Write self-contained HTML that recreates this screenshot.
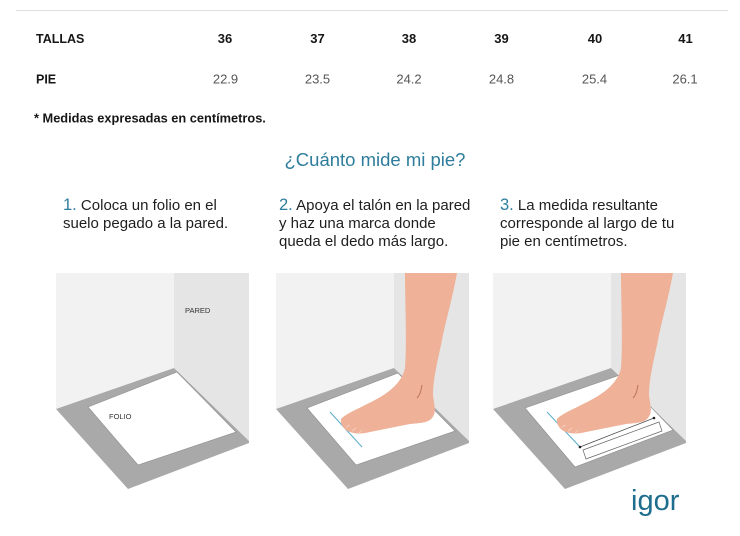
<!DOCTYPE html>
<html>
<head>
<meta charset="utf-8">
<style>
html,body{margin:0;padding:0;background:#fff;}
svg{display:block;}
text{font-family:"Liberation Sans",Arial,sans-serif;}
</style>
</head>
<body>
<svg width="740" height="536" viewBox="0 0 740 536" xmlns="http://www.w3.org/2000/svg">
<rect width="740" height="536" fill="#ffffff"/>
<!-- top rule -->
<line x1="16" y1="10.5" x2="728" y2="10.5" stroke="#e2e2e2" stroke-width="1.2"/>

<!-- table -->
<g font-weight="bold" fill="#161616" font-size="13">
<text x="36" y="43" font-size="12.5">TALLAS</text>
<text x="225" y="43" text-anchor="middle">36</text>
<text x="317.5" y="43" text-anchor="middle">37</text>
<text x="409" y="43" text-anchor="middle">38</text>
<text x="501.5" y="43" text-anchor="middle">39</text>
<text x="595" y="43" text-anchor="middle">40</text>
<text x="685.5" y="43" text-anchor="middle">41</text>
<text x="36" y="83.5" font-size="12.5">PIE</text>
</g>
<g fill="#555" font-size="13">
<text x="225.5" y="83.5" text-anchor="middle">22.9</text>
<text x="317.5" y="83.5" text-anchor="middle">23.5</text>
<text x="409" y="83.5" text-anchor="middle">24.2</text>
<text x="501.5" y="83.5" text-anchor="middle">24.8</text>
<text x="594.5" y="83.5" text-anchor="middle">25.4</text>
<text x="685" y="83.5" text-anchor="middle">26.1</text>
</g>
<text x="34" y="122.5" font-size="12.8" font-weight="bold" fill="#161616">* Medidas expresadas en centímetros.</text>

<!-- title -->
<text x="375" y="166" font-size="18.5" fill="#2f7d9c" text-anchor="middle">¿Cuánto mide mi pie?</text>

<!-- steps -->
<g font-size="15" fill="#1e1e1e">
<text x="63" y="210"><tspan fill="#2f7d9c" font-size="16.5">1.</tspan> Coloca un folio en el</text>
<text x="63" y="228">suelo pegado a la pared.</text>
<text x="279" y="210"><tspan fill="#2f7d9c" font-size="16.5">2.</tspan> Apoya el talón en la pared</text>
<text x="279" y="228">y haz una marca donde</text>
<text x="279" y="246">queda el dedo más largo.</text>
<text x="500" y="210"><tspan fill="#2f7d9c" font-size="16.5">3.</tspan> La medida resultante</text>
<text x="500" y="228">corresponde al largo de tu</text>
<text x="500" y="246">pie en centímetros.</text>
</g>

<!-- room template -->
<defs>
<g id="room">
<polygon points="56,273 174,273 174,368 56,409" fill="#f2f2f2"/>
<polygon points="174,273 249,273 249,441 174,368" fill="#e5e5e5"/>
<polygon points="56,409 174,368 249,441 249,443 128,489" fill="#a9a9a9"/>
</g>
</defs>

<!-- panel 1 -->
<use href="#room"/>
<polygon points="88,407 177,372 236,432 138,465" fill="#ffffff" stroke="#8c8c8c" stroke-width="0.6"/>
<text x="185" y="313" font-size="7.5" fill="#333">PARED</text>
<text x="109" y="419" font-size="7.5" fill="#333">FOLIO</text>

<!-- panel 2 -->
<use href="#room" transform="translate(220,0)"/>
<polygon points="307,408 398,373 455,431 356,465" fill="#ffffff" stroke="#8c8c8c" stroke-width="0.6"/>
<line x1="330" y1="412" x2="362" y2="447" stroke="#5aaecb" stroke-width="1"/>
<g id="leg">
<path d="M405,273 L457,273 C452,300 446,320 442,340 C438,360 433,378 433,395 C434,405 437,412 432,418 C428,423 420,423 410,424 L370,432 C362,434 355,434 350,432 C344,430 340,424 341,419 C345,414 360,408 375,400 C390,392 402,382 405,368 C407,340 405,300 405,273 Z" fill="#efb197"/>
<path d="M422,385 C421,391 420,395 417,398" stroke="#b9745d" stroke-width="1" fill="none"/>
<path d="M350,425 L346,427 M356,428 L352,431 M362,430 L359,433" stroke="#f7d3c3" stroke-width="0.8" fill="none"/>
</g>

<!-- panel 3 -->
<use href="#room" transform="translate(437,0)"/>
<polygon points="525,408 620,375 673,430 575,467" fill="#ffffff" stroke="#8c8c8c" stroke-width="0.6"/>
<line x1="547" y1="412" x2="580" y2="447" stroke="#5aaecb" stroke-width="1"/>
<use href="#leg" transform="translate(216,0)"/>
<line x1="580" y1="447" x2="654" y2="418" stroke="#444" stroke-width="0.7"/>
<circle cx="580" cy="447" r="1.3" fill="#222"/>
<circle cx="654" cy="418" r="1.3" fill="#222"/>
<polygon points="583,450 659,422 662,431 586,459" fill="none" stroke="#666" stroke-width="0.7"/>

<!-- logo -->
<text x="631" y="510" font-size="29" fill="#1f6d8e">igor</text>
</svg>
</body>
</html>
